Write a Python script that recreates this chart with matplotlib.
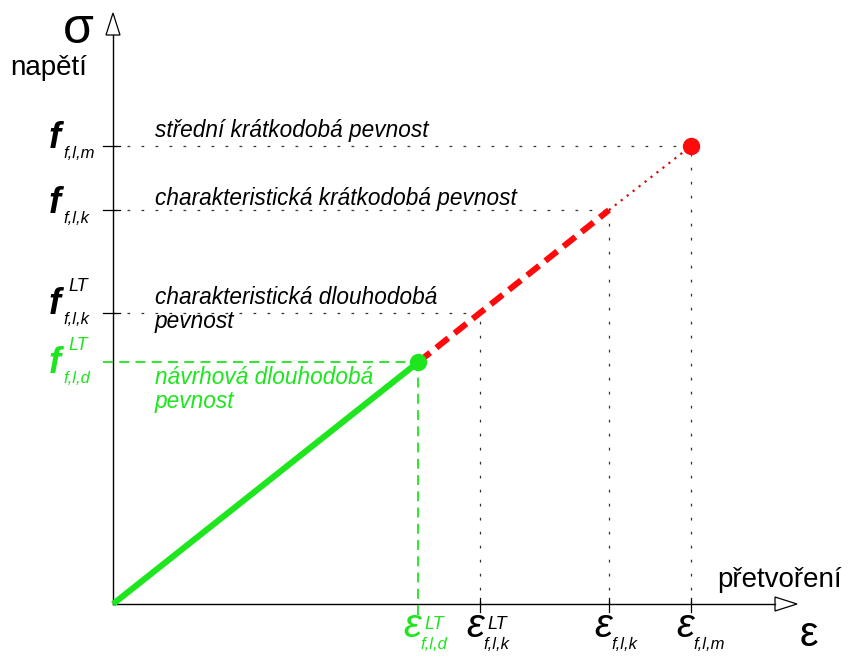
import matplotlib
matplotlib.use("Agg")
import matplotlib.pyplot as plt
from matplotlib.patches import Polygon

# ---- data (normalised: stress = strain, E = 1) ----
eps_names = ["d_LT", "k_LT", "k", "m"]
eps_vals = [0.528, 0.635, 0.858, 1.0]      # ε_{f,l,d}^LT, ε_{f,l,k}^LT, ε_{f,l,k}, ε_{f,l,m}
f_vals = [0.528, 0.635, 0.860, 1.0]        # f_{f,l,d}^LT, f_{f,l,k}^LT, f_{f,l,k}, f_{f,l,m}
level_texts = ["střední krátkodobá pevnost",
               "charakteristická krátkodobá pevnost",
               "charakteristická dlouhodobá\npevnost",
               "návrhová dlouhodobá\npevnost"]
axis_y_label = "napětí"
axis_x_label = "přetvoření"

GREEN = "#1ee61e"
RED = "#ff0a0a"
DRED = "#d01010"
GREY = "#333333"
FONT = "Liberation Sans"

W, H = 850, 657
fig = plt.figure(figsize=(W / 100, H / 100), dpi=100)
ax = fig.add_axes([0, 0, 1, 1])
ax.set_axis_off()

# pixel layout: origin at (113, 604), 1 unit = 578 px (x), 458 px (y)
OX, OY, SX, SY = 113, 604, 578, 458
ax.set_xlim(-OX / SX, (W - OX) / SX)
ax.set_ylim(-(H - OY) / SY, OY / SY)


def P(px, py):
    """pixel (from top-left) -> data coords (layout helper)"""
    return (px - OX) / SX, (OY - py) / SY


def T(px, py, s, size, color="black", style="italic", weight="normal"):
    x, y = P(px, py)
    ax.text(x, y, s, fontsize=size, color=color, fontstyle=style,
            fontweight=weight, family=FONT, ha="left", va="baseline")


e_d, e_kLT, e_k, e_m = eps_vals
f_d, f_kLT, f_k, f_m = f_vals

# ---- axes with open arrow heads ----
ytop = P(0, 35)[1]
xend = P(775, 0)[0]
ax.plot([0, 0], [0, ytop], color="black", lw=1.0)
ax.plot([0, xend], [0, 0], color="black", lw=1.0)
ax.add_patch(Polygon([P(OX - 7, 35), P(OX, 13), P(OX + 7, 35)], closed=True,
                     fc="white", ec="black", lw=0.9))
ax.add_patch(Polygon([P(775, OY - 7), P(797, OY), P(775, OY + 7)], closed=True,
                     fc="white", ec="black", lw=0.9))

# ---- reference lines ----
dot_kw = dict(color=GREY, lw=0.9, dashes=(2.2, 9))
for e, f in zip(eps_vals[1:], f_vals[1:]):
    ax.plot([0, e], [f, f], **dot_kw)
    ax.plot([e, e], [0, f], **dot_kw)
    # solid ticks
    ax.plot([P(103, 0)[0], P(120, 0)[0]], [f, f], color="black", lw=0.9)
    ax.plot([e, e], [P(0, 612)[1], P(0, 598)[1]], color="black", lw=0.9)

gdash = dict(color=GREEN, lw=1.3, dashes=(5.5, 3.5))
ax.plot([P(103, 0)[0], e_d], [f_d, f_d], **gdash)
ax.plot([e_d, e_d], [P(0, 615)[1], f_d], **gdash)

# ---- stress-strain line ----
ax.plot([0, e_d], [0, f_d], color=GREEN, lw=4.4, solid_capstyle="butt", zorder=5)
ax.plot([e_d, e_k], [f_d, f_k], color=RED, lw=4.4, dashes=(2.5, 1.3), zorder=5)
ax.plot([e_k, e_m], [f_k, f_m], color=DRED, lw=1.6, dashes=(1.0, 2.4), zorder=5)
ax.plot([e_d], [f_d], "o", ms=11.5, color=GREEN, mec=GREEN, zorder=6)
ax.plot([e_m], [f_m], "o", ms=11.5, color=RED, mec=RED, zorder=6)

# ---- axis titles ----
T(63, 43, "σ", 36, style="normal")
T(10, 75, axis_y_label, 20, style="normal")
T(717, 587, axis_x_label, 20, style="normal")
T(800, 646, "ε", 30, style="normal")

# ---- f labels on the stress axis ----
F_SIZE, SUB, SUP = 26, 12, 13
for fy, sub, sup, col in [(148, "f,l,m", None, "black"),
                          (213, "f,l,k", None, "black"),
                          (314, "f,l,k", "LT", "black"),
                          (373, "f,l,d", "LT", GREEN)]:
    T(49, fy, "f", F_SIZE, color=col, weight="bold")
    T(63, fy + 10, sub, SUB, color=col)
    if sup:
        T(68, fy - 23, sup, SUP, color=col)

# ---- level descriptions ----
TS = 16.3
T(155, 137, level_texts[0], TS)
T(155, 205, level_texts[1], TS)
l1, l2 = level_texts[2].split("\n")
T(155, 304, l1, TS)
T(155, 328, l2, TS)
g1, g2 = level_texts[3].split("\n")
T(155, 384, g1, TS, color=GREEN)
T(155, 408, g2, TS, color=GREEN)

# ---- ε labels on the strain axis ----
E_SIZE = 29
for ex, sub, sup, col in [(403, "f,l,d", "LT", GREEN),
                          (466, "f,l,k", "LT", "black"),
                          (594, "f,l,k", None, "black"),
                          (676, "f,l,m", None, "black")]:
    T(ex, 637, "ε", E_SIZE, color=col)
    T(ex + 17, 649, sub, SUB, color=col)
    if sup:
        T(ex + 21, 629, sup, SUP, color=col)

fig.savefig("out.png", dpi=100)
